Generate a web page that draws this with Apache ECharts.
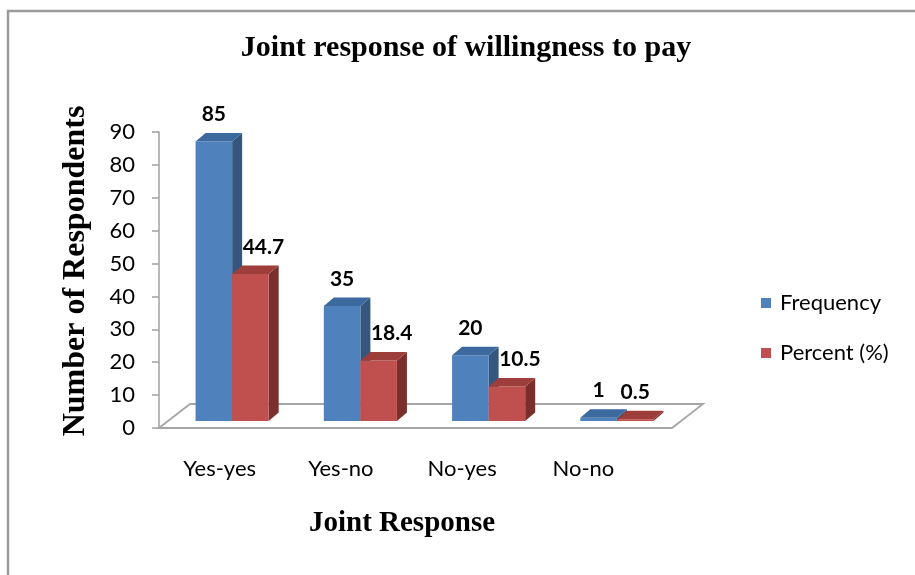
<!DOCTYPE html>
<html>
<head>
<meta charset="utf-8">
<script src="https://cdn.jsdelivr.net/npm/echarts@6/dist/echarts.min.js"></script>
<style>html,body{margin:0;padding:0;background:#fff}#c{width:915px;height:575px}</style>
</head>
<body>
<div id="c"></div>
<script>
const categories = ['Yes-yes', 'Yes-no', 'No-yes', 'No-no'];
const frequency = [85, 35, 20, 1];
const percent = [44.7, 18.4, 10.5, 0.5];
const seriesNames = ['Frequency', 'Percent (%)'];
const yTicks = { min: 0, max: 90, interval: 10 };

const palette = [
  { front: '#4F81BD', top: '#3D6A9E', side: '#35577F' },
  { front: '#C0504D', top: '#9E3E3B', side: '#7B2F2D' }
];
const allValues = [frequency, percent];

function renderBar(params, api) {
  const s = params.seriesIndex;
  const i = api.value(0), v = api.value(1);
  const base = api.coord([i, 0]);
  const top = api.coord([i, v]);
  const cw = api.size([1, 0])[0];
  const bw = cw * 0.285;
  const x0 = base[0] - bw + s * bw;
  const x1 = x0 + bw;
  const yt = top[1], yb = base[1];
  const dx = 10, dy = 8.5;
  const c = palette[s];
  let lx = x0 + bw / 2;
  if (s === 1 && allValues[0][i] - v > 5) lx += 13;
  return {
    type: 'group',
    children: [
      { type: 'polygon', shape: { points: [[x1, yt], [x1 + dx, yt - dy], [x1 + dx, yb - dy], [x1, yb]] }, style: { fill: c.side } },
      { type: 'rect', shape: { x: x0, y: yt, width: bw, height: yb - yt }, style: { fill: c.front } },
      { type: 'polygon', shape: { points: [[x0, yt], [x1, yt], [x1 + dx, yt - dy], [x0 + dx, yt - dy]] }, style: { fill: c.top } },
      { type: 'text', x: lx, y: yt - 27, style: { text: String(v), font: 'bold 21px Lato', fill: '#000', align: 'center', verticalAlign: 'middle' } }
    ]
  };
}

const chart = echarts.init(document.getElementById('c'), null, { renderer: 'canvas' });
chart.setOption({
  animation: false,
  backgroundColor: '#fff',
  grid: [
    { left: 168, right: 234, top: 125, bottom: 154 },
    { left: 159, right: 271, top: 132, bottom: 147 }
  ],
  xAxis: [
    { gridIndex: 0, type: 'category', data: categories, show: false },
    { gridIndex: 1, type: 'category', data: categories,
      axisLine: { show: false }, axisTick: { show: false },
      axisLabel: { margin: 30, fontFamily: 'Lato', fontSize: 22, color: '#000' } }
  ],
  yAxis: [
    { gridIndex: 0, type: 'value', min: yTicks.min, max: yTicks.max, show: false },
    { gridIndex: 1, type: 'value', min: yTicks.min, max: yTicks.max, interval: yTicks.interval,
      axisLine: { show: true, lineStyle: { color: '#a0a0a0', width: 1.5 } },
      axisTick: { show: true, length: 7, lineStyle: { color: '#a0a0a0', width: 1.5 } },
      splitLine: { show: false },
      axisLabel: { margin: 24, fontFamily: 'Lato', fontSize: 22, color: '#000' } }
  ],
  legend: {
    orient: 'vertical', left: 761, top: 292, padding: 0,
    itemWidth: 10, itemHeight: 10, itemGap: 28,
    icon: 'rect',
    data: seriesNames,
    textStyle: { fontFamily: 'Lato', fontSize: 22, color: '#000', lineHeight: 22, padding: [0, 0, 0, 4] }
  },
  graphic: [
    { type: 'rect', z: 0, shape: { x: 8, y: 11, width: 1200, height: 1000 }, style: { fill: 'none', stroke: '#9a9a9a', lineWidth: 2.5 } },
    { type: 'polygon', z: 1, shape: { points: [[159, 428], [190, 404], [703, 404], [672, 428]] }, style: { fill: '#fff', stroke: '#a6a6a6', lineWidth: 1.8 } },
    { type: 'text', x: 466, y: 48, style: { text: 'Joint response of willingness to pay', font: 'bold 30px "Liberation Serif"', fill: '#000', align: 'center', verticalAlign: 'middle' } },
    { type: 'text', x: 402, y: 524, style: { text: 'Joint Response', font: 'bold 29px "Liberation Serif"', fill: '#000', align: 'center', verticalAlign: 'middle' } },
    { type: 'text', x: 76, y: 271, rotation: Math.PI / 2, style: { text: 'Number of Respondents', font: 'bold 32px "Liberation Serif"', fill: '#000', align: 'center', verticalAlign: 'middle' } }
  ],
  series: [
    { name: seriesNames[0], type: 'custom', xAxisIndex: 0, yAxisIndex: 0, z: 3,
      itemStyle: { color: palette[0].front },
      data: frequency.map((v, i) => [i, v]), encode: { x: 0, y: 1 }, renderItem: renderBar },
    { name: seriesNames[1], type: 'custom', xAxisIndex: 0, yAxisIndex: 0, z: 3,
      itemStyle: { color: palette[1].front },
      data: percent.map((v, i) => [i, v]), encode: { x: 0, y: 1 }, renderItem: renderBar }
  ]
});
</script>
</body>
</html>
